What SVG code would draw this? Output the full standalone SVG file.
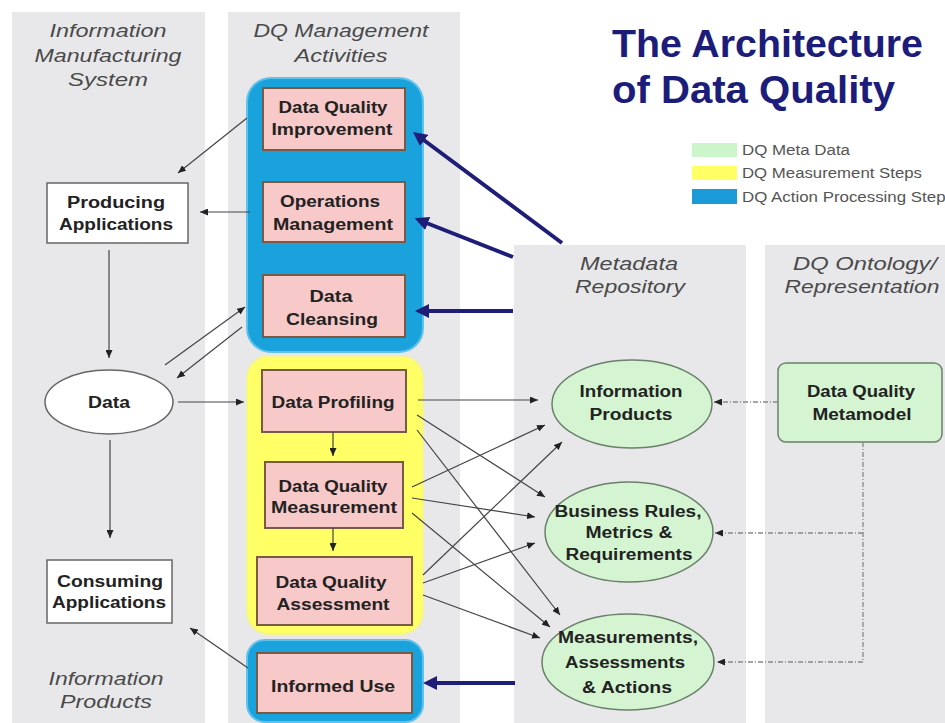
<svg xmlns="http://www.w3.org/2000/svg" width="945" height="723" viewBox="0 0 945 723">
<style>
.col{fill:#e8e8ea}
.hdr{font-family:"Liberation Sans",Arial,sans-serif;font-style:italic;font-size:19px;fill:#4a4a4a;text-anchor:middle}
.lbl{font-family:"Liberation Sans",Arial,sans-serif;font-weight:bold;font-size:16px;fill:#222;text-anchor:middle}
.title{font-family:"Liberation Sans",Arial,sans-serif;font-weight:bold;font-size:39px;fill:#1c1c7a}
.leg{font-family:"Liberation Sans",Arial,sans-serif;font-size:14px;fill:#555}
.pink{fill:#f7c9c9;stroke:#7a5a44;stroke-width:2}
.wbox{fill:#fff;stroke:#666;stroke-width:1.5}
.green{fill:#d5f5d2;stroke:#6b806b;stroke-width:1.5}
.blue{fill:#1aa2dc;stroke:#5fc2ec;stroke-width:2}
.yellow{fill:#ffff66;stroke:#f4f490;stroke-width:2}
.thin{fill:none;stroke:#444;stroke-width:1.2;marker-end:url(#ah)}
.dash{fill:none;stroke:#888;stroke-width:1.3;stroke-dasharray:5 2 1 2}
.navy{fill:none;stroke:#1e1e78;stroke-width:4;marker-end:url(#nav)}
</style>
<defs>
<marker id="ah" markerUnits="userSpaceOnUse" markerWidth="8" markerHeight="7" refX="8" refY="3.5" orient="auto">
<path d="M0,0 L8,3.5 L0,7 z" fill="#222"/>
</marker>
<marker id="nav" markerUnits="userSpaceOnUse" markerWidth="16" markerHeight="14" refX="4" refY="7" orient="auto">
<path d="M0,0 L14,7 L0,14 z" fill="#1e1e78"/>
</marker>
</defs>
<rect width="945" height="723" fill="#fff"/>
<g id="backgrounds">
<rect class="col" x="12" y="12" width="193" height="711"/>
<rect class="col" x="228" y="12" width="232" height="711"/>
<rect class="col" x="514" y="245" width="232" height="478"/>
<rect class="col" x="765" y="245" width="180" height="478"/>
</g>
<g id="headers">
<text class="hdr" x="108" y="37" textLength="117" lengthAdjust="spacingAndGlyphs">Information</text>
<text class="hdr" x="108" y="62" textLength="147" lengthAdjust="spacingAndGlyphs">Manufacturing</text>
<text class="hdr" x="108" y="86" textLength="80" lengthAdjust="spacingAndGlyphs">System</text>
<text class="hdr" x="341" y="37" textLength="175" lengthAdjust="spacingAndGlyphs">DQ Management</text>
<text class="hdr" x="341" y="62" textLength="93" lengthAdjust="spacingAndGlyphs">Activities</text>
<text class="hdr" x="629" y="270" textLength="98" lengthAdjust="spacingAndGlyphs">Metadata</text>
<text class="hdr" x="630" y="293" textLength="110" lengthAdjust="spacingAndGlyphs">Repository</text>
<text class="hdr" x="865" y="270" textLength="144" lengthAdjust="spacingAndGlyphs">DQ Ontology/</text>
<text class="hdr" x="862" y="293" textLength="155" lengthAdjust="spacingAndGlyphs">Representation</text>
<text class="hdr" x="106" y="685" textLength="115" lengthAdjust="spacingAndGlyphs">Information</text>
<text class="hdr" x="106" y="708" textLength="92" lengthAdjust="spacingAndGlyphs">Products</text>
</g>
<g id="title">
<text class="title" x="612" y="57" textLength="311" lengthAdjust="spacingAndGlyphs">The Architecture</text>
<text class="title" x="612" y="103" textLength="283" lengthAdjust="spacingAndGlyphs">of Data Quality</text>
</g>
<g id="legend">
<rect x="692" y="143" width="45" height="14" fill="#ccf5cc"/>
<rect x="692" y="166" width="45" height="14" fill="#ffff66"/>
<rect x="692" y="189" width="45" height="15" fill="#1a9ad6"/>
<text class="leg" x="742" y="155" textLength="108" lengthAdjust="spacingAndGlyphs">DQ Meta Data</text>
<text class="leg" x="742" y="178" textLength="180" lengthAdjust="spacingAndGlyphs">DQ Measurement Steps</text>
<text class="leg" x="742" y="202" textLength="212" lengthAdjust="spacingAndGlyphs">DQ Action Processing Steps</text>
</g>
<g id="containers">
<rect class="blue" x="247" y="78" width="176" height="274" rx="24"/>
<rect class="yellow" x="247" y="356" width="176" height="278" rx="22"/>
<rect class="blue" x="247" y="640" width="176" height="82" rx="18"/>
</g>
<g id="producing-applications">
<rect class="wbox" x="47" y="183" width="141" height="60"/>
<text class="lbl" x="116" y="208" textLength="98" lengthAdjust="spacingAndGlyphs">Producing</text>
<text class="lbl" x="116" y="230" textLength="114" lengthAdjust="spacingAndGlyphs">Applications</text>
</g>
<g id="data">
<ellipse class="wbox" cx="109" cy="402" rx="64" ry="32"/>
<text class="lbl" x="109" y="408" textLength="42" lengthAdjust="spacingAndGlyphs">Data</text>
</g>
<g id="consuming-applications">
<rect class="wbox" x="47" y="560" width="125" height="63"/>
<text class="lbl" x="110" y="587" textLength="106" lengthAdjust="spacingAndGlyphs">Consuming</text>
<text class="lbl" x="109" y="608" textLength="114" lengthAdjust="spacingAndGlyphs">Applications</text>
</g>
<g id="dq-improvement">
<rect class="pink" x="263" y="88" width="142" height="62"/>
<text class="lbl" x="333" y="113" textLength="109" lengthAdjust="spacingAndGlyphs">Data Quality</text>
<text class="lbl" x="332" y="135" textLength="121" lengthAdjust="spacingAndGlyphs">Improvement</text>
</g>
<g id="operations-management">
<rect class="pink" x="263" y="182" width="142" height="60"/>
<text class="lbl" x="330" y="207" textLength="100" lengthAdjust="spacingAndGlyphs">Operations</text>
<text class="lbl" x="333" y="230" textLength="120" lengthAdjust="spacingAndGlyphs">Management</text>
</g>
<g id="data-cleansing">
<rect class="pink" x="263" y="275" width="142" height="62"/>
<text class="lbl" x="331" y="302" textLength="43" lengthAdjust="spacingAndGlyphs">Data</text>
<text class="lbl" x="332" y="325" textLength="92" lengthAdjust="spacingAndGlyphs">Cleansing</text>
</g>
<g id="data-profiling">
<rect class="pink" x="262" y="370" width="144" height="62"/>
<text class="lbl" x="333" y="408" textLength="123" lengthAdjust="spacingAndGlyphs">Data Profiling</text>
</g>
<g id="dq-measurement">
<rect class="pink" x="265" y="462" width="138" height="66"/>
<text class="lbl" x="333" y="492" textLength="109" lengthAdjust="spacingAndGlyphs">Data Quality</text>
<text class="lbl" x="334" y="513" textLength="126" lengthAdjust="spacingAndGlyphs">Measurement</text>
</g>
<g id="dq-assessment">
<rect class="pink" x="257" y="557" width="155" height="68"/>
<text class="lbl" x="331" y="588" textLength="111" lengthAdjust="spacingAndGlyphs">Data Quality</text>
<text class="lbl" x="333" y="610" textLength="113" lengthAdjust="spacingAndGlyphs">Assessment</text>
</g>
<g id="informed-use">
<rect class="pink" x="257" y="653" width="155" height="60"/>
<text class="lbl" x="333" y="692" textLength="124" lengthAdjust="spacingAndGlyphs">Informed Use</text>
</g>
<g id="information-products">
<ellipse class="green" cx="632" cy="404" rx="80" ry="44"/>
<text class="lbl" x="631" y="397" textLength="103" lengthAdjust="spacingAndGlyphs">Information</text>
<text class="lbl" x="631" y="420" textLength="83" lengthAdjust="spacingAndGlyphs">Products</text>
</g>
<g id="business-rules">
<ellipse class="green" cx="629" cy="532" rx="84" ry="50"/>
<text class="lbl" x="628" y="517" textLength="147" lengthAdjust="spacingAndGlyphs">Business Rules,</text>
<text class="lbl" x="629" y="538" textLength="87" lengthAdjust="spacingAndGlyphs">Metrics &amp;</text>
<text class="lbl" x="629" y="560" textLength="127" lengthAdjust="spacingAndGlyphs">Requirements</text>
</g>
<g id="measurements">
<ellipse class="green" cx="628" cy="662" rx="86" ry="48"/>
<text class="lbl" x="628" y="643" textLength="140" lengthAdjust="spacingAndGlyphs">Measurements,</text>
<text class="lbl" x="625" y="668" textLength="120" lengthAdjust="spacingAndGlyphs">Assessments</text>
<text class="lbl" x="627" y="693" textLength="90" lengthAdjust="spacingAndGlyphs">&amp; Actions</text>
</g>
<g id="dq-metamodel">
<rect class="green" x="778" y="363" width="164" height="79" rx="8"/>
<text class="lbl" x="861" y="397" textLength="108" lengthAdjust="spacingAndGlyphs">Data Quality</text>
<text class="lbl" x="862" y="420" textLength="99" lengthAdjust="spacingAndGlyphs">Metamodel</text>
</g>
<g id="connectors">
<path class="thin" d="M247,118 L178,173"/>
<path class="thin" d="M250,212 L200,212"/>
<path class="thin" d="M109,250 L109,358"/>
<path class="thin" d="M165,365 L245,307"/>
<path class="thin" d="M242,327 L177,378"/>
<path class="thin" d="M178,402 L244,402"/>
<path class="thin" d="M110,440 L110,538"/>
<path class="thin" d="M248,668 L190,628"/>
<path class="thin" d="M333,432 L333,456"/>
<path class="thin" d="M333,528 L333,551"/>
<path class="thin" d="M418,400 L538,400"/>
<path class="thin" d="M417,415 L545,497"/>
<path class="thin" d="M417,430 L560,615"/>
<path class="thin" d="M412,487 L545,425"/>
<path class="thin" d="M412,498 L535,517"/>
<path class="thin" d="M412,513 L550,627"/>
<path class="thin" d="M423,575 L562,442"/>
<path class="thin" d="M423,583 L535,543"/>
<path class="thin" d="M423,595 L540,638"/>
<path class="dash" d="M778,402 L714,402" marker-end="url(#ah)"/>
<path class="dash" d="M863,442 L863,662 L717,662" marker-end="url(#ah)"/>
<path class="dash" d="M863,533 L715,533" marker-end="url(#ah)"/>
<path class="navy" d="M562,243 L421,138"/>
<path class="navy" d="M513,257 L424,222"/>
<path class="navy" d="M513,311 L425,311"/>
<path class="navy" d="M515,683 L433,683"/>
</g>
</svg>
